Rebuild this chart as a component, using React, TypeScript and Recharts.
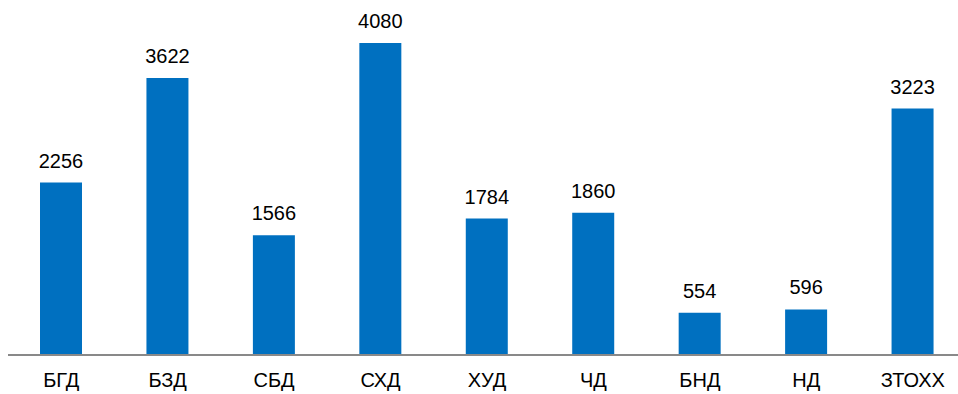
import React from 'react';
import { BarChart, Bar, XAxis, YAxis, LabelList } from 'recharts';

const categories = ['БГД', 'БЗД', 'СБД', 'СХД', 'ХУД', 'ЧД', 'БНД', 'НД', 'ЗТОХХ'];
const values = [2256, 3622, 1566, 4080, 1784, 1860, 554, 596, 3223];

const data = categories.map((name, i) => ({ name, value: values[i] }));

const font = '"Liberation Sans", Arial, sans-serif';

const App: React.FC = () => {
  return (
    <div
      style={{
        position: 'absolute',
        left: 0,
        top: 0,
        width: 958,
        height: 394,
        overflow: 'hidden',
        background: '#fff',
        fontFamily: font,
      }}
    >
      <BarChart
        width={966}
        height={394}
        data={data}
        margin={{ top: 11, right: 0, left: 8, bottom: 9 }}
      >
        <XAxis
          dataKey="name"
          axisLine={{ stroke: '#898989', strokeWidth: 2 }}
          tickLine={false}
          tickSize={0}
          tickMargin={18}
          height={30}
          interval={0}
          tick={{ fontSize: 20, fill: '#000', fontFamily: font }}
        />
        <YAxis hide domain={[0, 4500]} />
        <Bar dataKey="value" fill="#0070C0" barSize={42} isAnimationActive={false}>
          <LabelList
            dataKey="value"
            position="top"
            offset={15}
            style={{ fontSize: 20, fill: '#000', fontFamily: font }}
          />
        </Bar>
      </BarChart>
    </div>
  );
};

export default App;
